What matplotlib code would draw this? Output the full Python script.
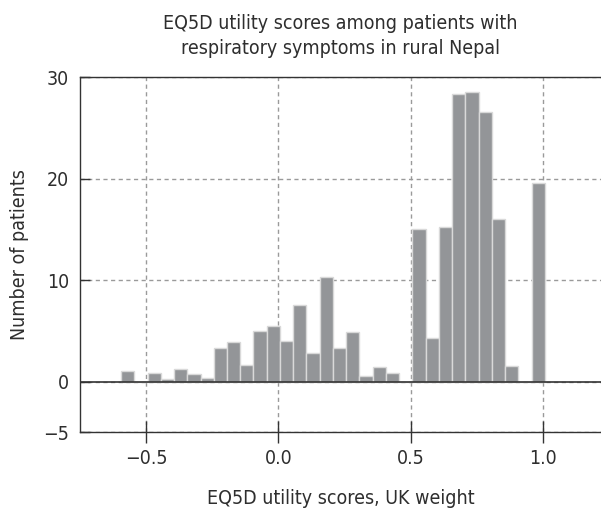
import matplotlib
matplotlib.use("Agg")
import matplotlib.pyplot as plt
import numpy as np

bin_start = -0.594
bin_width = 0.05
counts = [1.0, 0.0, 0.86, 0.23, 1.28, 0.76, 0.36, 3.29, 3.88, 1.68,
          4.97, 5.5, 4.02, 7.6, 2.86, 10.34, 3.36, 4.88, 0.6, 1.45,
          0.89, 0.0, 15.07, 4.28, 15.2, 28.37, 28.57, 26.6, 15.99, 1.55,
          0.0, 19.59]
xticks = [-0.5, 0.0, 0.5, 1.0]
xticklabels = ["\u22120.5", "0.0", "0.5", "1.0"]
yticks = [-5, 0, 10, 20, 30]
yticklabels = ["\u22125", "0", "10", "20", "30"]
title = "EQ5D utility scores among patients with\nrespiratory symptoms in rural Nepal"
xlabel = "EQ5D utility scores, UK weight"
ylabel = "Number of patients"

plt.rcParams['font.family'] = ['DejaVu Sans']
plt.rcParams['font.stretch'] = 'condensed'
text_color = '#2e2e2e'
fs = 14

fig = plt.figure(figsize=(6.01, 5.14), dpi=100)
ax = fig.add_axes([80/601, (514-432.3)/514, (601-80)/601, (432.3-77.3)/514])

edges = bin_start + bin_width*np.arange(len(counts))
ax.bar(edges, counts, width=bin_width, align='edge', color='#939598',
       edgecolor='#d9d9d9', linewidth=1.0, zorder=3)

ax.set_xlim(-0.749, 1.218)
ax.set_ylim(-5, 30)
ax.axhline(0, color='#333333', linewidth=1.2, zorder=4)

ax.set_xticks(xticks)
ax.set_xticklabels(xticklabels)
ax.set_yticks(yticks)
ax.set_yticklabels(yticklabels)
ax.tick_params(axis='x', direction='inout', length=16, width=1, color='#333333',
               labelsize=fs, labelcolor=text_color, pad=4)
ax.tick_params(axis='y', direction='in', length=7, width=1, color='#333333',
               labelsize=fs, labelcolor=text_color, pad=8)

ax.grid(True, color='#9a9a9a', linestyle=(0, (3, 2.5)), linewidth=1.0, zorder=0)
ax.set_axisbelow(True)

for s in ['left', 'top', 'bottom']:
    ax.spines[s].set_color('#333333')
    ax.spines[s].set_linewidth(1.0)
ax.spines['right'].set_visible(False)

ax.set_title(title, fontsize=fs, color=text_color, pad=17, linespacing=1.35)
ax.set_xlabel(xlabel, fontsize=fs, color=text_color, labelpad=15)
ax.set_ylabel(ylabel, fontsize=fs, color=text_color, labelpad=10)

fig.savefig("out.png", dpi=100)
